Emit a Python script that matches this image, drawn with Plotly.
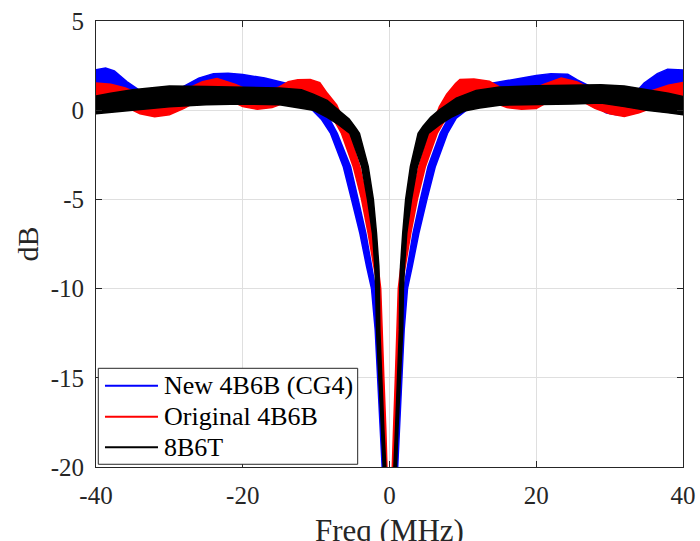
import plotly.graph_objects as go

# ---------------- data ----------------
# Each noisy trace is drawn as a band: "hi" edge (inner / upper) and "lo" edge
# (outer / lower), for the negative (L) and positive (R) frequency halves.

# New 4B6B (CG4) - blue
blue_L_hi_x = [-0.6, -0.65, -0.95, -1.25, -1.6, -1.9, -2.45, -3.22, -4.27, -5.31, -7.12, -8.2, -9.2, -10.5, -12, -14.5, -17, -20, -22, -24, -26, -28, -30, -32, -34, -35.8, -37.5, -38.7, -40]
blue_L_hi_y = [-21, -20, -17.9, -15, -12.3, -10, -8.75, -6.9, -5, -3.15, -1.3, -0.5, 0.3, 0.9, 1.3, 1.55, 1.8, 2.0, 2.07, 2.05, 1.8, 1.35, 0.9, 0.75, 1.1, 1.6, 2.2, 2.37, 2.27]
blue_L_lo_x = [-1.0, -1.0, -1.3, -1.6, -1.95, -2.45, -3.13, -4.04, -5.18, -6.31, -8.03, -9.3, -10.5, -12, -14, -17, -20, -22, -24, -26, -28, -30, -31, -32, -34, -36, -38, -40]
blue_L_lo_y = [-21, -20, -17.9, -15, -12.3, -10, -8.75, -6.9, -5, -3.15, -1.3, -0.5, 0.0, 0.3, 0.5, 0.8, 1.0, 1.05, 1.0, 0.7, 0.25, -0.15, -0.25, -0.22, 0.1, 0.7, 1.2, 1.25]
blue_R_hi_x = [0.6, 0.7, 1.0, 1.3, 1.65, 1.95, 2.45, 3.2, 4.2, 5.25, 6.9, 8.0, 9.0, 10.5, 12, 14.1, 17, 20, 22, 24.3, 25.6, 27.5, 30, 32, 34, 34.7, 36.5, 37.9, 40]
blue_R_hi_y = [-21, -20, -17.9, -15, -12.3, -10, -8.75, -6.9, -5, -3.15, -1.3, -0.5, 0.3, 0.9, 1.3, 1.52, 1.75, 1.95, 2.05, 2.02, 1.7, 1.3, 0.9, 0.75, 1.2, 1.52, 2.05, 2.3, 2.25]
blue_R_lo_x = [1.0, 1.05, 1.35, 1.65, 2.0, 2.45, 3.1, 4.0, 5.1, 6.25, 7.9, 9.1, 10.5, 12, 14, 17, 20, 22, 24, 26, 28, 29.5, 30.9, 32, 34, 36, 38, 40]
blue_R_lo_y = [-21, -20, -17.9, -15, -12.3, -10, -8.75, -6.9, -5, -3.15, -1.3, -0.45, 0.0, 0.3, 0.5, 0.8, 1.0, 1.05, 1.0, 0.7, 0.25, -0.15, -0.25, -0.2, 0.1, 0.7, 1.2, 1.25]

# Original 4B6B - red
red_L_hi_x = [-0.28, -0.32, -0.5, -0.77, -1.05, -1.2, -1.55, -2.23, -3.04, -4.04, -5.49, -6.3, -7.2, -8.5, -9.5, -10.8, -12.5, -13.8, -15, -17, -19, -21, -23.5, -25.5, -27.5, -30, -32, -34, -36, -38, -40]
red_L_hi_y = [-21, -20, -17.9, -15, -12.3, -10, -8.75, -6.9, -5, -3.15, -1.3, -0.5, 0.3, 0.96, 1.55, 1.72, 1.7, 1.6, 1.3, 1.05, 1.1, 1.45, 1.78, 1.6, 1.2, 0.8, 0.65, 0.9, 1.24, 1.45, 1.52]
red_L_lo_x = [-0.65, -0.64, -0.86, -1.18, -1.41, -1.55, -2.14, -2.91, -3.81, -4.95, -6.54, -7.5, -8.5, -10, -12, -14, -16, -18, -20, -22, -24, -26, -28, -30, -32, -34, -36, -38, -40]
red_L_lo_y = [-21, -20, -17.9, -15, -12.3, -10, -8.75, -6.9, -5, -3.15, -1.3, -0.6, -0.15, 0.35, 0.65, 0.45, 0.15, 0.05, 0.2, 0.6, 0.8, 0.55, 0.1, -0.25, -0.37, -0.2, 0.2, 0.5, 0.55]
red_R_hi_x = [0.3, 0.36, 0.55, 0.8, 1.05, 1.2, 1.55, 2.2, 3.0, 4.0, 5.4, 6.1, 6.8, 7.8, 9.0, 9.6, 11.5, 13.6, 15, 17, 19, 21, 23.4, 25.5, 27.5, 30, 32, 34, 35.7, 38, 40]
red_R_hi_y = [-21, -20, -17.9, -15, -12.3, -10, -8.75, -6.9, -5, -3.15, -1.3, -0.5, 0.2, 0.9, 1.5, 1.72, 1.75, 1.62, 1.3, 1.05, 1.1, 1.45, 1.8, 1.6, 1.2, 0.8, 0.65, 0.85, 1.1, 1.4, 1.55]
red_R_lo_x = [0.7, 0.72, 0.9, 1.2, 1.45, 1.6, 2.15, 2.9, 3.8, 4.9, 6.5, 7.5, 8.5, 10, 12, 14, 16, 18, 20, 22, 24, 26, 28, 30, 32, 34, 36, 38, 40]
red_R_lo_y = [-21, -20, -17.9, -15, -12.3, -10, -8.75, -6.9, -5, -3.15, -1.3, -0.6, -0.15, 0.35, 0.65, 0.45, 0.15, 0.05, 0.1, 0.55, 0.8, 0.55, 0.1, -0.2, -0.35, -0.15, 0.15, 0.45, 0.55]

# 8B6T - black
black_L_hi_x = [-0.45, -0.5, -0.77, -1.05, -1.32, -1.38, -1.45, -1.77, -2.2, -2.9, -4.1, -4.6, -5.5, -6.8, -8.5, -10.4, -12, -15, -20, -25, -30, -35, -38, -40]
black_L_hi_y = [-21, -20, -17.9, -15, -12.3, -10, -8.75, -6.9, -5, -3.15, -1.3, -1.0, -0.5, -0.05, 0.55, 0.9, 1.15, 1.25, 1.3, 1.33, 1.35, 1.15, 0.95, 0.8]
black_L_lo_x = [-0.9, -0.86, -1.09, -1.41, -1.77, -1.88, -2.0, -2.32, -3.0, -3.8, -5.4, -7.0, -8.5, -10.4, -12, -15, -20, -25, -30, -35, -40]
black_L_lo_y = [-21, -20, -17.9, -15, -12.3, -10, -8.75, -6.9, -5, -3.15, -1.3, -0.8, -0.4, 0.0, 0.13, 0.3, 0.35, 0.3, 0.2, 0.0, -0.2]
black_R_hi_x = [0.55, 0.6, 0.82, 1.1, 1.35, 1.4, 1.5, 1.8, 2.2, 2.85, 3.9, 4.57, 5.6, 6.84, 9.1, 11.8, 15, 20, 25, 28.8, 32, 35, 38, 40]
black_R_hi_y = [-21, -20, -17.9, -15, -12.3, -10, -8.75, -6.9, -5, -3.15, -1.3, -0.9, -0.4, 0.03, 0.68, 1.11, 1.3, 1.37, 1.4, 1.43, 1.35, 1.15, 0.95, 0.77]
black_R_lo_x = [0.95, 0.95, 1.15, 1.45, 1.8, 1.9, 2.05, 2.35, 3.0, 3.8, 5.3, 6.9, 8.4, 10.2, 12.3, 15, 20.45, 25, 28.8, 32, 35, 38, 40]
black_R_lo_y = [-21, -20, -17.9, -15, -12.3, -10, -8.75, -6.9, -5, -3.15, -1.3, -0.8, -0.4, -0.05, 0.12, 0.28, 0.31, 0.35, 0.4, 0.2, 0.0, -0.15, -0.25]

series_names = ["New 4B6B (CG4)", "Original 4B6B", "8B6T"]
series_colors = ["#0000ff", "#ff0000", "#000000"]

x_tick_vals = [-40, -20, 0, 20, 40]
x_tick_text = ["-40", "-20", "0", "20", "40"]
y_tick_vals = [-20, -15, -10, -5, 0, 5]
y_tick_text = ["-20", "-15", "-10", "-5", "0", "5"]
x_label = "Freq (MHz)"
y_label = "dB"

bands = [
    [(blue_L_hi_x, blue_L_hi_y, blue_L_lo_x, blue_L_lo_y), (blue_R_hi_x, blue_R_hi_y, blue_R_lo_x, blue_R_lo_y)],
    [(red_L_hi_x, red_L_hi_y, red_L_lo_x, red_L_lo_y), (red_R_hi_x, red_R_hi_y, red_R_lo_x, red_R_lo_y)],
    [(black_L_hi_x, black_L_hi_y, black_L_lo_x, black_L_lo_y), (black_R_hi_x, black_R_hi_y, black_R_lo_x, black_R_lo_y)],
]

FONT = "Liberation Serif"
TXT = "#262626"

fig = go.Figure()
for name, color, halves in zip(series_names, series_colors, bands):
    for i, (hx, hy, lx, ly) in enumerate(halves):
        fig.add_trace(go.Scatter(
            x=list(hx) + list(lx)[::-1],
            y=list(hy) + list(ly)[::-1],
            mode="lines", fill="toself", fillcolor=color,
            line=dict(color=color, width=1.5),
            name=name, legendgroup=name,
            hoverinfo="skip", showlegend=False))

# legend box drawn in paper coordinates (MATLAB-style legend)
leg_x0, leg_x1, leg_y0, leg_y1 = 0.0039, 0.4458, 0.0061, 0.2213
leg_rows = [0.1823, 0.1128, 0.0442]
shapes = [dict(type="rect", xref="paper", yref="paper", x0=leg_x0, x1=leg_x1,
               y0=leg_y0, y1=leg_y1, line=dict(color=TXT, width=1),
               fillcolor="white", layer="above")]
annotations = []
for name, color, ry in zip(series_names, series_colors, leg_rows):
    shapes.append(dict(type="line", xref="paper", yref="paper", x0=0.0153, x1=0.1056,
                       y0=ry, y1=ry, line=dict(color=color, width=2), layer="above"))
    annotations.append(dict(xref="paper", yref="paper", x=0.1125, y=ry,
                            xanchor="left", yanchor="middle", showarrow=False,
                            text=name, font=dict(family=FONT, size=26, color="#000000")))

# x-axis label, placed as in the reference (partly below the page edge)
annotations.append(dict(xref="paper", yref="paper", x=0.5, y=-0.098,
                        xanchor="center", yanchor="top", showarrow=False,
                        text=x_label, font=dict(family=FONT, size=31, color=TXT)))

axis_common = dict(showline=True, linecolor=TXT, linewidth=1, mirror="ticks",
                   ticks="inside", ticklen=6, tickcolor=TXT, tickwidth=1,
                   showgrid=True, gridcolor="#dfdfdf", gridwidth=1, zeroline=False,
                   tickfont=dict(family=FONT, size=25, color=TXT))

fig.update_layout(
    width=700, height=541,
    margin=dict(l=96, r=17, t=21, b=74),
    paper_bgcolor="white", plot_bgcolor="white",
    font=dict(family=FONT, color=TXT),
    xaxis=dict(range=[-40, 40], tickvals=x_tick_vals, ticktext=x_tick_text,
               ticklabelstandoff=6, automargin=False, **axis_common),
    yaxis=dict(range=[-20, 5], tickvals=y_tick_vals, ticktext=y_tick_text,
               ticklabelstandoff=6,
               title=dict(text=y_label, font=dict(family=FONT, size=30, color=TXT), standoff=3),
               automargin=False, **axis_common),
    shapes=shapes, annotations=annotations,
    showlegend=False,
)

fig.write_html("out.html", config={"displayModeBar": False},
               post_script="document.body.style.margin='0';document.body.style.padding='0';")
